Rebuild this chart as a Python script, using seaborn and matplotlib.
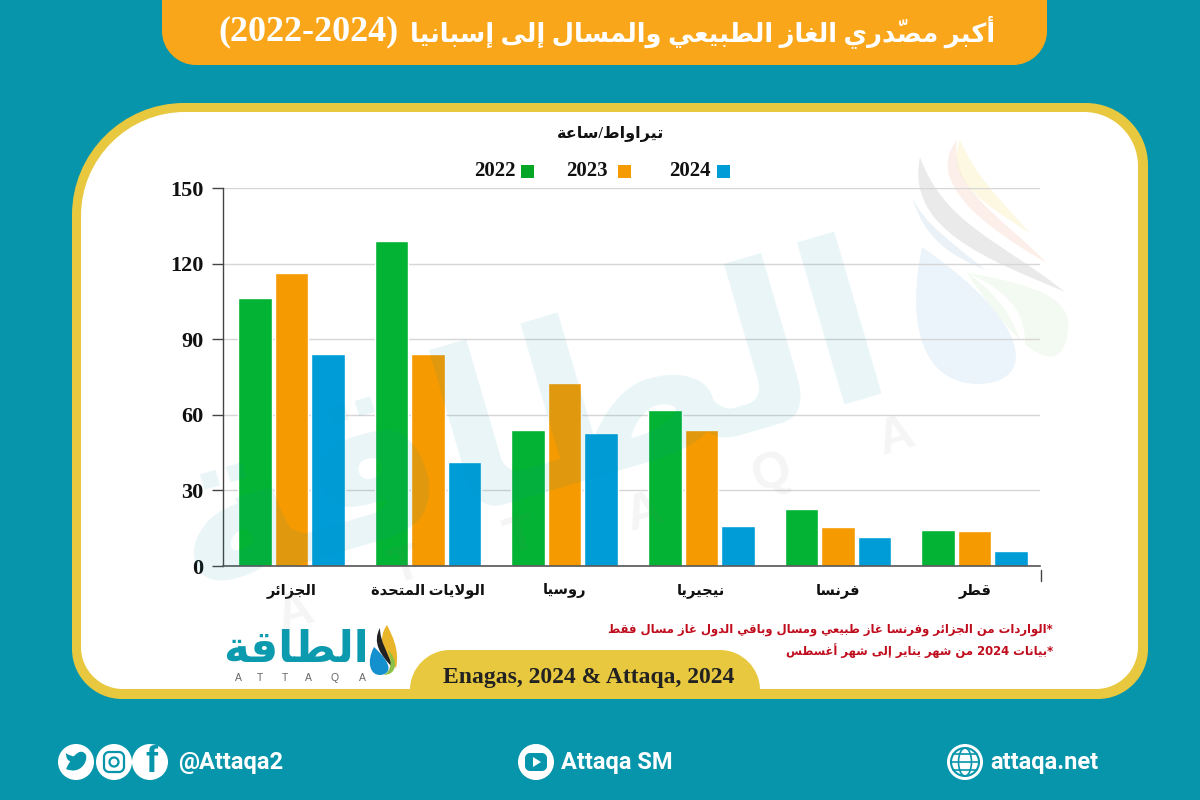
import re
import pandas as pd
import seaborn as sns
import matplotlib
matplotlib.use("Agg")
import matplotlib.pyplot as plt
from matplotlib.patches import PathPatch, Rectangle, Circle, Ellipse
from matplotlib.path import Path

countries = ["الجزائر", "الولايات المتحدة", "روسيا", "نيجيريا", "فرنسا", "قطر"]
years = ["2022", "2023", "2024"]
values_2022 = [106.3, 129, 54, 61.9, 22.6, 14.3]
values_2023 = [116.3, 84, 72.6, 54, 15.5, 13.9]
values_2024 = [84.1, 41.3, 52.8, 15.9, 11.5, 6]
y_ticks = [0, 30, 60, 90, 120, 150]

title_ar = "أكبر مصدّري الغاز الطبيعي والمسال إلى إسبانيا"
title_years = "(2022-2024)"
unit_ar = "تيراواط/ساعة"
note_1 = "*الواردات من الجزائر وفرنسا غاز طبيعي ومسال وباقي الدول غاز مسال فقط"
note_2 = "*بيانات 2024 من شهر يناير إلى شهر أغسطس"
source_text = "Enagas, 2024 & Attaqa, 2024"
logo_ar = "الطاقة"
logo_letters = ["A", "T", "T", "A", "Q", "A"]

TEAL = "#0795AB"
ORANGE = "#FAA61A"
YELLOW = "#E8C83F"
bar_colors = ["#03B334", "#F59A00", "#009CD8"]

# matplotlib does not shape arabic, so map letters to presentation forms by hand
# letter -> first codepoint, number of forms (2 = does not join the next letter)
FORMS = {
    "ء": (0xFE80, 1), "آ": (0xFE81, 2), "أ": (0xFE83, 2), "ؤ": (0xFE85, 2), "إ": (0xFE87, 2),
    "ئ": (0xFE89, 4), "ا": (0xFE8D, 2), "ب": (0xFE8F, 4), "ة": (0xFE93, 2), "ت": (0xFE95, 4),
    "ث": (0xFE99, 4), "ج": (0xFE9D, 4), "ح": (0xFEA1, 4), "خ": (0xFEA5, 4), "د": (0xFEA9, 2),
    "ذ": (0xFEAB, 2), "ر": (0xFEAD, 2), "ز": (0xFEAF, 2), "س": (0xFEB1, 4), "ش": (0xFEB5, 4),
    "ص": (0xFEB9, 4), "ض": (0xFEBD, 4), "ط": (0xFEC1, 4), "ظ": (0xFEC5, 4), "ع": (0xFEC9, 4),
    "غ": (0xFECD, 4), "ف": (0xFED1, 4), "ق": (0xFED5, 4), "ك": (0xFED9, 4), "ل": (0xFEDD, 4),
    "م": (0xFEE1, 4), "ن": (0xFEE5, 4), "ه": (0xFEE9, 4), "و": (0xFEED, 2), "ى": (0xFEEF, 2),
    "ي": (0xFEF1, 4),
}
LAM_ALEF = {"آ": 0xFEF5, "أ": 0xFEF7, "إ": 0xFEF9, "ا": 0xFEFB}
SHADDA = "\u0651"


def ar(text):
    # returns the string in visual order, left to right
    letters = []
    marks = {}
    for ch in text:
        if ch == SHADDA:
            marks[len(letters) - 1] = ch
        else:
            letters.append(ch)
    out = []
    i = 0
    prev_joins = False
    while i < len(letters):
        ch = letters[i]
        if ch not in FORMS:
            out.append(ch)
            prev_joins = False
            i += 1
            continue
        if ch == "ل" and i + 1 < len(letters) and letters[i + 1] in LAM_ALEF:
            out.append(chr(LAM_ALEF[letters[i + 1]] + (1 if prev_joins else 0)))
            prev_joins = False
            i += 2
            continue
        base, n = FORMS[ch]
        next_is_letter = i + 1 < len(letters) and letters[i + 1] in FORMS and FORMS[letters[i + 1]][1] > 1
        joins_next = n == 4 and next_is_letter
        if n == 1:
            form = 0
        elif n == 2:
            form = 1 if prev_joins else 0
        elif prev_joins:
            form = 3 if joins_next else 1
        else:
            form = 2 if joins_next else 0
        out.append(chr(base + form) + marks.get(i, ""))
        prev_joins = joins_next
        i += 1
    s = "".join(out[::-1])
    # digit runs went backwards with the reversal
    return re.sub(r"[0-9]+", lambda m: m.group(0)[::-1], s)


def rounded(x0, y0, x1, y1, tl, tr, br, bl):
    # rounded box in pixel coordinates
    k = 0.45
    verts = [(x0 + tl, y0), (x1 - tr, y0), (x1 - tr * k, y0), (x1, y0 + tr * k), (x1, y0 + tr),
             (x1, y1 - br), (x1, y1 - br * k), (x1 - br * k, y1), (x1 - br, y1),
             (x0 + bl, y1), (x0 + bl * k, y1), (x0, y1 - bl * k), (x0, y1 - bl),
             (x0, y0 + tl), (x0, y0 + tl * k), (x0 + tl * k, y0), (x0 + tl, y0), (x0 + tl, y0)]
    codes = [Path.MOVETO, Path.LINETO, Path.CURVE4, Path.CURVE4, Path.CURVE4,
             Path.LINETO, Path.CURVE4, Path.CURVE4, Path.CURVE4,
             Path.LINETO, Path.CURVE4, Path.CURVE4, Path.CURVE4,
             Path.LINETO, Path.CURVE4, Path.CURVE4, Path.CURVE4, Path.CLOSEPOLY]
    return Path(verts, codes)


def crescent(a, c1, c2, b, c3, c4, color, alpha=1.0):
    # two bezier curves a->b and b->a
    codes = [Path.MOVETO, Path.CURVE4, Path.CURVE4, Path.CURVE4, Path.CURVE4, Path.CURVE4, Path.CURVE4,
             Path.CLOSEPOLY]
    return PathPatch(Path([a, c1, c2, b, c3, c4, a, a], codes), fc=color, ec="none", alpha=alpha)


sns.set_theme(style="white")
plt.rcParams["font.family"] = ["Liberation Serif", "DejaVu Sans"]
plt.rcParams["font.weight"] = "bold"

df = pd.DataFrame({
    "country": [ar(c) for c in countries] * 3,
    "year": [y for y in years for _ in countries],
    "value": values_2022 + values_2023 + values_2024,
})

fig = plt.figure(figsize=(12, 8), dpi=100, facecolor=TEAL)

# background shapes, axes in pixel coordinates
bg = fig.add_axes([0, 0, 1, 1], zorder=0)
bg.set_xlim(0, 1200)
bg.set_ylim(800, 0)
bg.axis("off")
bg.add_patch(PathPatch(rounded(162, -40, 1047, 65, 0, 0, 34, 34), fc=ORANGE, ec="none"))
bg.add_patch(PathPatch(rounded(72, 103, 1148, 699, 112, 62, 50, 50), fc=YELLOW, ec="none"))
bg.add_patch(PathPatch(rounded(81, 112, 1138, 689, 104, 54, 42, 42), fc="white", ec="none"))
bg.add_patch(PathPatch(rounded(410, 650, 760, 692, 40, 40, 0, 0), fc=YELLOW, ec="none"))

# pale flame behind the grid
bg.add_patch(crescent((920, 157), (905, 230), (990, 260), (1065, 292), (1000, 240), (945, 225), "#9A9A9A", 0.2))
bg.add_patch(crescent((957, 140), (925, 180), (980, 225), (1047, 263), (1000, 215), (950, 190), "#F2B9A0", 0.22))
bg.add_patch(crescent((960, 140), (945, 180), (985, 205), (1030, 233), (1000, 200), (975, 175), "#F8E9A0", 0.3))
bg.add_patch(crescent((912, 197), (925, 240), (950, 255), (985, 270), (950, 240), (925, 225), "#BBD7E8", 0.3))
bg.add_patch(crescent((967, 273), (1040, 285), (1072, 300), (1068, 330), (1065, 365), (1040, 382), "#EAF7E6", 0.55))
bg.add_patch(crescent((967, 273), (1020, 295), (1040, 330), (1013, 385), (1040, 360), (1010, 300), "#FFFFFF", 1))
bg.add_patch(crescent((922, 247), (905, 330), (925, 385), (980, 384), (1035, 382), (1035, 325), "#E6F2FA", 0.8))

bg.text(218, 32, title_years, color="white", fontsize=26, ha="left", va="center")
bg.text(995, 32, ar(title_ar), color="white", fontsize=18.5, ha="right", va="center")
bg.text(611, 134, ar(unit_ar), color="#111111", fontsize=11.5, ha="center", va="center")

# legend
legend_x = [527, 624, 723]
legend_text_x = [516, 608, 711]
for x, tx, yr, c in zip(legend_x, legend_text_x, years, ["#03A625", bar_colors[1], bar_colors[2]]):
    bg.add_patch(Rectangle((x - 6.5, 165), 13, 13, fc=c, ec="none"))
    bg.text(tx, 171, yr, color="#111111", fontsize=15, ha="right", va="center")

# notes, source and logo
bg.text(1053, 629, ar(note_1), color="#C00D1E", fontsize=8.35, ha="right", va="center", family=["DejaVu Sans"])
bg.text(1053, 651, ar(note_2), color="#C00D1E", fontsize=8.35, ha="right", va="center", family=["DejaVu Sans"])
bg.text(589, 677, source_text, color="#222222", fontsize=17, ha="center", va="center")
bg.text(296, 651, ar(logo_ar), color="#0C9AAE", fontsize=31.5, ha="center", va="center")
for x, letter in zip([238, 260, 285, 308, 335, 362], logo_letters):
    bg.text(x, 678, letter, color="#666666", fontsize=7.5, ha="center", va="center",
            family=["Liberation Sans"], fontweight="normal")
bg.add_patch(crescent((387, 625), (376, 640), (385, 655), (396, 668), (400, 650), (392, 635), "#E8B52B"))
bg.add_patch(crescent((380, 628), (372, 642), (380, 655), (393, 668), (388, 652), (380, 642), "#222222"))
bg.add_patch(crescent((388, 650), (398, 660), (398, 675), (383, 675), (392, 672), (392, 660), "#8CBF45"))
bg.add_patch(crescent((374, 647), (366, 662), (370, 676), (381, 675), (396, 672), (386, 658), "#1590CE"))

# footer
for cx in [76, 114, 150, 536, 965]:
    bg.add_patch(Circle((cx, 762), 18, fc="white", ec="none"))
bg.add_patch(crescent((66, 769), (80, 775), (88, 762), (86, 755), (82, 748), (74, 752), TEAL))
bg.add_patch(crescent((66, 753), (66, 762), (72, 764), (76, 757), (72, 756), (68, 755), TEAL))
bg.add_patch(PathPatch(rounded(104, 752, 124, 772, 5, 5, 5, 5), fc="none", ec=TEAL, lw=1.6))
bg.add_patch(Circle((114, 762), 4.5, fc="none", ec=TEAL, lw=1.6))
bg.text(151, 763, "f", color=TEAL, fontsize=26, ha="center", va="center", family=["Liberation Sans"])
bg.add_patch(PathPatch(rounded(525, 753, 547, 771, 5, 5, 5, 5), fc=TEAL, ec="none"))
bg.add_patch(plt.Polygon([(533, 757), (533, 767), (541, 762)], fc="white", ec="none"))
bg.add_patch(Circle((965, 762), 14, fc="none", ec=TEAL, lw=1.5))
bg.add_patch(Ellipse((965, 762), 13, 28, fc="none", ec=TEAL, lw=1.2))
bg.plot([951, 979], [762, 762], color=TEAL, lw=1.2)
bg.plot([953, 977], [754, 754], color=TEAL, lw=1.2)
bg.plot([953, 977], [770, 770], color=TEAL, lw=1.2)
for x, t in [(178, "@Attaqa2"), (561, "Attaqa SM"), (990, "attaqa.net")]:
    bg.text(x, 763, t, color="white", fontsize=17, ha="left", va="center", family=["Roboto"],
            fontweight="bold")
bg.plot([1041, 1041], [570, 581], color="#444444", lw=1)

# chart
ax = fig.add_axes([223 / 1200, 1 - 566 / 800, 817 / 1200, 378 / 800], zorder=1)
ax.patch.set_alpha(0)
sns.barplot(data=df, x="country", y="value", hue="year", palette=bar_colors, saturation=1,
            width=0.8, gap=0.08, legend=False, ax=ax)
ax.set_xlim(-0.5, 5.478)
ax.set_ylim(0, 150)
ax.set_yticks(y_ticks)
ax.set_xlabel("")
ax.set_ylabel("")
ax.grid(axis="y", color="#D6D6D6", lw=1)
ax.set_axisbelow(True)
sns.despine(ax=ax)
ax.spines["left"].set_color("#444444")
ax.spines["left"].set_linewidth(1)
ax.spines["bottom"].set_color("#555555")
ax.spines["bottom"].set_linewidth(1.2)
ax.tick_params(axis="y", left=True, length=8, width=1, color="#444444", labelsize=16, pad=6, labelcolor="#111111")
ax.tick_params(axis="x", length=0, labelsize=10.5, pad=12, labelcolor="#111111")

# watermark lies over the bars
wm = fig.add_axes([0, 0, 1, 1], zorder=2)
wm.set_xlim(0, 1200)
wm.set_ylim(800, 0)
wm.axis("off")
wm.text(545, 488, ar(logo_ar), color=TEAL, alpha=0.09, fontsize=160, rotation=16.3, rotation_mode="anchor",
        ha="center", va="baseline", family=["DejaVu Sans"])
wm_x = [295, 405, 520, 644, 772, 896]
wm_y = [613, 567, 537, 513, 473, 437]
for x, y, letter in zip(wm_x, wm_y, logo_letters):
    wm.text(x, y, letter, color="#777777", alpha=0.07, fontsize=36, rotation=16.3, ha="center", va="center",
            family=["Liberation Sans"])

plt.savefig("out.png", dpi=100, facecolor=TEAL)
